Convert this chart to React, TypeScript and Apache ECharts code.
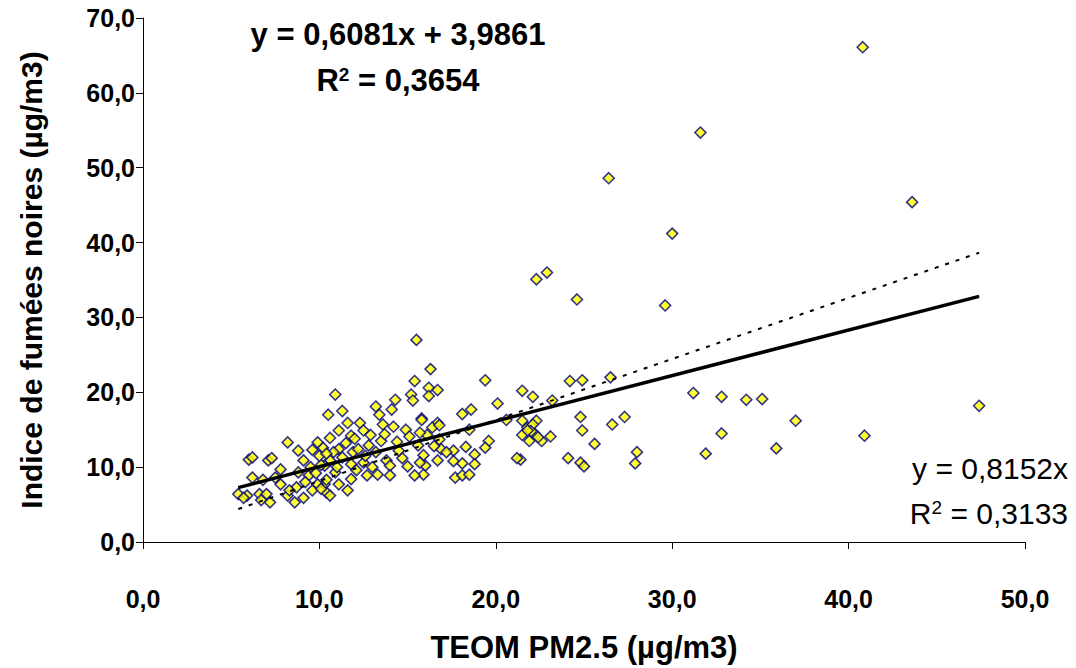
import React, { useEffect, useRef } from "react";
import * as echarts from "echarts";

// TEOM PM2.5 (x) vs Indice de fumées noires (y), µg/m3
const teom: number[] = [
  40.8, 31.6, 26.4, 43.6, 30.0, 22.9, 22.3, 24.6, 29.6,
  24.2, 24.9, 26.5, 21.5, 22.1, 23.2, 31.2, 32.8, 34.2, 35.1, 47.4,
  37.0, 40.9, 32.8, 35.9, 31.9, 27.3, 26.6, 25.6, 28.0, 27.9,
  24.8, 24.9, 24.8, 25.0, 24.1,
  23.1, 22.6, 22.2, 21.9, 22.3, 21.8, 22.1, 21.5, 21.4, 22.4, 22.0,
  16.3, 19.4, 16.2, 16.7, 16.2, 20.1, 18.1, 18.6, 15.8, 16.7, 16.4, 16.8, 18.5, 16.8, 16.1,
  19.6, 19.4, 18.3, 17.6, 18.8, 15.9, 16.7, 18.1, 17.6, 18.8, 16.0, 17.7, 18.1, 18.5, 15.9,
  21.2, 21.5, 21.8, 15.5, 20.6, 16.9, 15.7, 16.5, 17.2,
  15.4, 15.2, 10.9, 14.3, 13.2, 14.1, 15.3, 11.3, 10.5, 13.4, 12.3, 11.6, 15.8, 14.2, 14.9,
  11.1, 12.5, 11.8, 15.1, 10.6, 13.5, 14.4, 12.8, 15.6, 10.2, 11.1, 11.9, 14.7, 13.8, 10.6,
  11.3, 12.5, 15.7, 10.3, 11.8, 13.0, 14.0, 15.0, 10.9, 12.1, 13.3, 14.0, 12.7, 15.4, 10.3,
  11.8, 11.1, 10.4, 11.6,
  8.2, 8.8, 6.0, 6.2, 7.1, 7.3, 9.1, 9.9, 9.6, 7.8, 6.2, 6.8, 7.5, 7.8, 8.8, 9.4, 10.1, 9.2,
  8.7, 9.9, 10.4, 5.4, 5.9, 5.7, 6.6, 7.0, 6.7, 7.2, 8.2, 8.6, 9.1, 8.3, 9.6, 10.1, 10.6,
  9.5, 10.0, 10.8, 11.5, 12.0, 12.9, 13.6, 12.6, 11.0, 9.8, 12.2, 13.2, 14.5, 13.7, 10.4,
];
const fumees: number[] = [
  66.1, 54.7, 48.6, 45.4, 41.2, 36.0, 35.1, 32.4, 31.6,
  21.5, 21.6, 22.0, 20.2, 19.4, 18.9, 19.9, 19.4, 19.0, 19.1, 18.2,
  16.2, 14.2, 14.5, 12.5, 11.8, 16.7, 15.7, 13.1, 12.0, 10.5,
  16.7, 14.9, 10.6, 10.1, 11.2,
  14.1, 13.5, 14.5, 13.5, 16.2, 15.3, 15.7, 14.3, 11.0, 14.0, 14.8,
  23.1, 21.6, 20.6, 20.3, 19.5, 18.5, 17.1, 17.7, 16.5, 15.9, 15.3, 15.6, 15.0, 13.7, 14.3,
  13.5, 12.6, 12.7, 12.2, 11.7, 11.6, 10.9, 10.5, 10.8, 10.4, 10.2, 8.6, 8.9, 9.0, 9.0,
  11.2, 16.2, 14.9, 27.0, 16.3, 12.4, 14.6, 12.8, 12.0,
  21.5, 19.7, 19.7, 19.0, 18.1, 17.7, 18.9, 17.5, 17.0, 17.0, 15.9, 15.9, 16.3, 15.4, 15.0,
  14.9, 14.9, 14.2, 14.1, 13.9, 13.5, 13.4, 12.9, 12.9, 12.6, 12.4, 12.0, 11.2, 10.9, 10.9,
  11.3, 10.6, 10.6, 10.2, 10.4, 10.0, 10.2, 10.1, 9.3, 9.6, 9.0, 8.9, 8.9, 8.9, 7.7,
  8.4, 7.7, 6.6, 6.9,
  13.3, 12.2, 11.0, 11.3, 10.9, 11.2, 10.9, 13.3, 12.3, 9.7, 8.6, 8.3, 8.6, 7.7, 9.3, 8.9, 10.3, 8.0,
  7.3, 7.7, 8.3, 6.4, 6.2, 5.9, 6.4, 6.4, 5.6, 5.3, 6.2, 5.3, 5.9, 6.9, 6.9, 7.1, 6.2,
  10.0, 11.5, 12.0, 13.2, 13.8, 14.3, 15.7, 11.5, 10.0, 9.2, 12.4, 12.0, 12.2, 14.4, 11.8,
];

// Trend lines (from the equations shown)
const linSlope = 0.6081;
const linIntercept = 3.9861;
const originSlope = 0.8152;
const xTicks = [0, 10, 20, 30, 40, 50];
const yTicks = [0, 10, 20, 30, 40, 50, 60, 70];

const FONT = "Liberation Sans, Arial, sans-serif";

export default function App() {
  const ref = useRef<HTMLDivElement>(null);
  useEffect(() => {
    if (!ref.current) return;
    const chart = echarts.init(ref.current, undefined, { renderer: "svg" });
    const pts = teom.map((x, i) => [x, fumees[i]]);
    const xMin = Math.min(...teom);
    const xMax = Math.max(...teom);
    const fmt = (v: number) => v.toFixed(1).replace(".", ",");
    chart.setOption({
      animation: false,
      backgroundColor: "#ffffff",
      grid: { left: 143, top: 18, right: 51, bottom: 123, containLabel: false },
      xAxis: {
        type: "value",
        min: xTicks[0],
        max: xTicks[xTicks.length - 1],
        interval: 10,
        name: "TEOM PM2.5 (µg/m3)",
        nameLocation: "middle",
        nameGap: 90,
        nameTextStyle: { fontFamily: FONT, fontWeight: "bold", fontSize: 31, color: "#000" },
        axisLine: { lineStyle: { color: "#000", width: 1 } },
        axisTick: { show: true, length: 7, lineStyle: { color: "#000" } },
        axisLabel: { margin: 44, formatter: fmt, fontFamily: FONT, fontWeight: "bold", fontSize: 25, color: "#000" },
        splitLine: { show: false },
      },
      yAxis: {
        type: "value",
        min: yTicks[0],
        max: yTicks[yTicks.length - 1],
        interval: 10,
        name: "Indice de fumées noires (µg/m3)",
        nameLocation: "middle",
        nameGap: 97,
        nameTextStyle: { fontFamily: FONT, fontWeight: "bold", fontSize: 30, color: "#000" },
        axisLine: { show: true, lineStyle: { color: "#000", width: 1 } },
        axisTick: { show: true, length: 7, lineStyle: { color: "#000" } },
        axisLabel: { margin: 8, formatter: fmt, fontFamily: FONT, fontWeight: "bold", fontSize: 25, color: "#000" },
        splitLine: { show: false },
      },
      series: [
        {
          type: "scatter",
          data: pts,
          symbol: "diamond",
          symbolSize: 11,
          itemStyle: { color: "#ffff00", borderColor: "#000080", borderWidth: 1.6 },
          z: 2,
        },
        {
          type: "line",
          data: [
            [xMin, linSlope * xMin + linIntercept],
            [xMax, linSlope * xMax + linIntercept],
          ],
          symbol: "none",
          lineStyle: { color: "#000", width: 3.5, type: "solid" },
          z: 3,
        },
        {
          type: "line",
          data: [
            [xMin, originSlope * xMin],
            [xMax, originSlope * xMax],
          ],
          symbol: "none",
          lineStyle: { color: "#000", width: 2, type: [4, 7] },
          z: 3,
        },
      ],
      graphic: [
        {
          type: "text",
          x: 398,
          y: 34,
          style: {
            text: "y = 0,6081x + 3,9861",
            font: `bold 31px ${FONT}`,
            fill: "#000",
            align: "center",
            verticalAlign: "middle",
          },
        },
        {
          type: "text",
          x: 398,
          y: 80,
          style: {
            text: "{r|R}{s|2}{r| = 0,3654}",
            fill: "#000",
            align: "center",
            verticalAlign: "middle",
            rich: {
              r: { font: `bold 31px ${FONT}`, fill: "#000", verticalAlign: "bottom" },
              s: { font: `bold 19px ${FONT}`, fill: "#000", verticalAlign: "top" },
            },
          },
        },
        {
          type: "text",
          x: 1068,
          y: 468,
          style: {
            text: "y = 0,8152x",
            font: `30px ${FONT}`,
            fill: "#000",
            align: "right",
            verticalAlign: "middle",
          },
        },
        {
          type: "text",
          x: 1068,
          y: 513,
          style: {
            text: "{r|R}{s|2}{r| = 0,3133}",
            fill: "#000",
            align: "right",
            verticalAlign: "middle",
            rich: {
              r: { font: `30px ${FONT}`, fill: "#000", verticalAlign: "bottom" },
              s: { font: `19px ${FONT}`, fill: "#000", verticalAlign: "top" },
            },
          },
        },
      ],
    });
    return () => chart.dispose();
  }, []);
  return (
    <div
      ref={ref}
      style={{ position: "fixed", left: 0, top: 0, width: 1076, height: 668 }}
    />
  );
}
